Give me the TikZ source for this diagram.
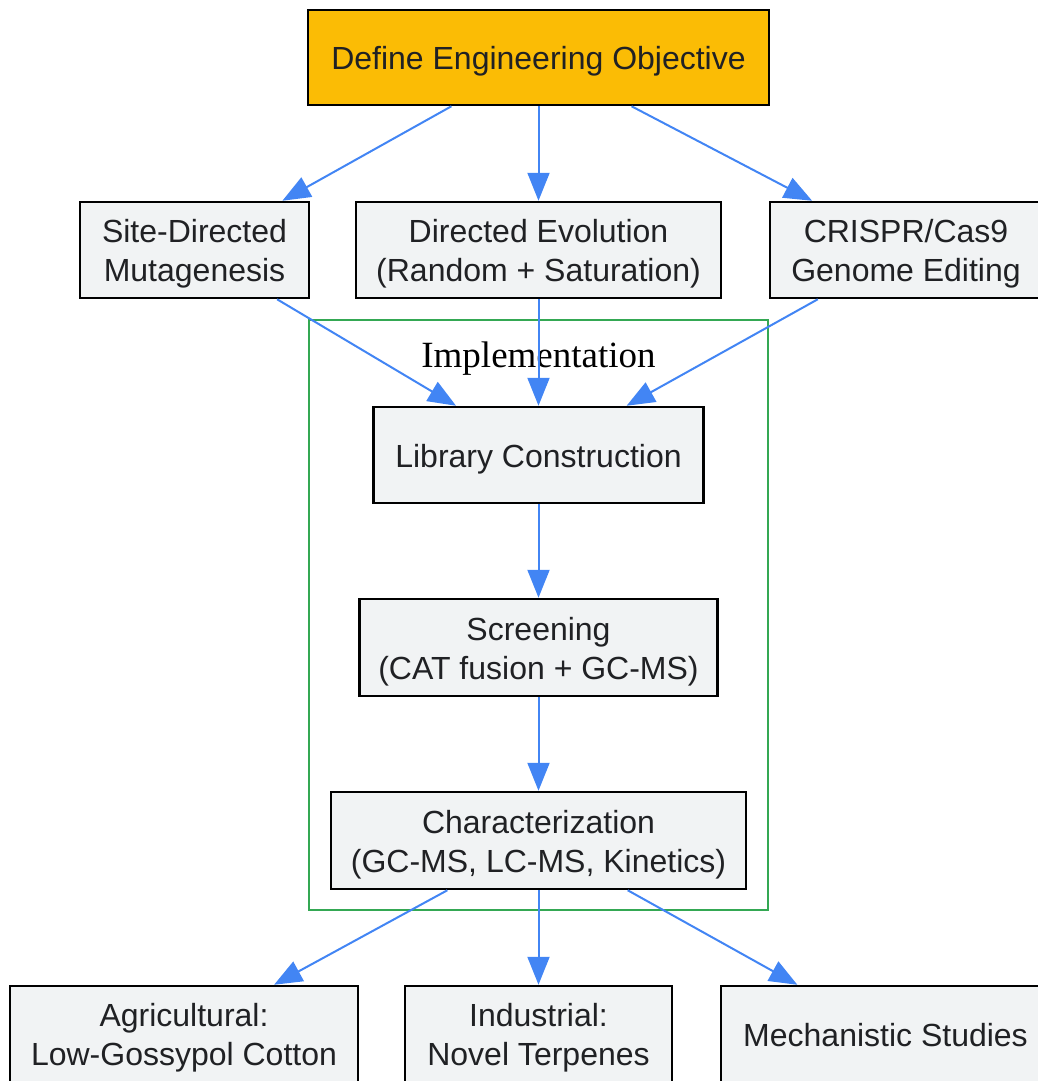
\documentclass[tikz,border=0pt]{standalone}
\usepackage{fontspec}
\setmainfont{Liberation Sans}
\newfontfamily\labelserif{Liberation Serif}
\usetikzlibrary{arrows.meta}
\definecolor{objyellow}{HTML}{FBBC05}
\definecolor{boxgrey}{HTML}{F1F3F4}
\definecolor{textgrey}{HTML}{202124}
\definecolor{flowblue}{HTML}{4285F4}
\definecolor{implgreen}{HTML}{34A853}
\newcommand\ls{\rule[-6pt]{0pt}{37pt}}
\begin{document}
\begin{tikzpicture}[x=1pt,y=-1pt,
		box/.style={draw=black,line width=2.5pt,fill=boxgrey,inner sep=0pt,align=center,text=textgrey,
			font=\fontsize{32}{39}\selectfont},
		flow/.style={draw=flowblue,line width=2pt,-{Triangle[length=28pt,width=22pt]}},
		cluster/.style={draw=implgreen,line width=2pt,inner sep=0pt}]
		\useasboundingbox (0,0) rectangle (1038,1081);
		\node[cluster,minimum width=459pt,minimum height=590pt] (impl) at (538.5,615) {};
		\node[anchor=base,font=\labelserif\fontsize{37}{44}\selectfont] (impllabel) at (538.5,367) {Implementation};
		
		\node[box,fill=objyellow,minimum width=461pt,minimum height=95pt] (obj) at (538.5,57.5) {\ls Define Engineering Objective};
		\node[box,minimum width=229pt,minimum height=96pt] (sdm) at (194.5,250) {\ls Site-Directed\\Mutagenesis\ls};
		\node[box,minimum width=365pt,minimum height=96pt] (devo) at (538.5,250) {\ls Directed Evolution\\(Random + Saturation)\ls};
		\node[box,minimum width=272pt,minimum height=96pt] (crispr) at (906,250) {\ls CRISPR/Cas9\\Genome Editing\ls};
		\node[box,minimum width=330pt,minimum height=96pt] (lib) at (538.5,455) {\ls Library Construction};
		\node[box,minimum width=358pt,minimum height=97pt] (scr) at (538.5,647.5) {\ls Screening\\(CAT fusion + GC-MS)\ls};
		\node[box,minimum width=415pt,minimum height=97pt] (char) at (538.5,840.5) {\ls Characterization\\(GC-MS, LC-MS, Kinetics)\ls};
		\node[box,minimum width=348pt,minimum height=96pt] (agri) at (184,1034) {\ls Agricultural:\\Low-Gossypol Cotton\ls};
		\node[box,minimum width=267pt,minimum height=96pt] (ind) at (538.5,1034) {\ls Industrial:\\Novel Terpenes\ls};
		\node[box,minimum width=329pt,minimum height=96pt] (mech) at (885.5,1034) {\ls Mechanistic Studies};
		
		\foreach \f/\t in {obj/sdm,obj/devo,obj/crispr,sdm/lib,devo/lib,crispr/lib,lib/scr,scr/char,char/agri,char/ind,char/mech}{
			\draw[flow] (\f) -- (\t);
		}
	\end{tikzpicture}
\end{document}
